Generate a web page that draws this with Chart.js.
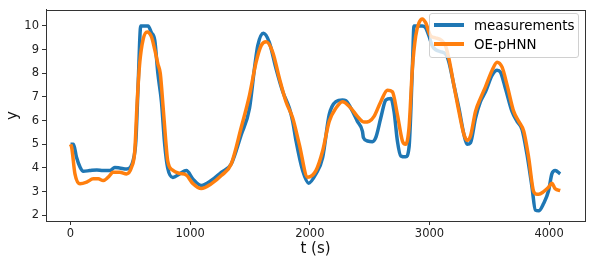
<!DOCTYPE html>
<html>
<head>
<meta charset="utf-8">
<script src="https://cdn.jsdelivr.net/npm/chart.js@4/dist/chart.umd.min.js"></script>
<style>
  body { margin: 0; background: #fff; }
  #wrap { position: relative; width: 592px; height: 265px; }
  #legend {
    position: absolute; left: 429px; top: 13px; width: 148px; height: 43px;
    background: rgba(255, 255, 255, 0.8); border: 1px solid #d0d0d0; border-radius: 3px;
    font-family: "DejaVu Sans", sans-serif; font-size: 13.4px; color: #000;
  }
  .row { position: absolute; left: 0; height: 18px; display: flex; align-items: center; }
  .swatch { width: 30px; height: 3.5px; margin-left: 4px; margin-right: 10px; }
</style>
</head>
<body>
<div id="wrap">
  <canvas id="chart"></canvas>
  <div id="legend">
    <div class="row" style="top: 2px;"><span class="swatch" style="background:#1f77b4"></span>measurements</div>
    <div class="row" style="top: 21px;"><span class="swatch" style="background:#ff7f0e"></span>OE-pHNN</div>
  </div>
</div>
<script>
// valeurs
const measTime = [0, 25, 50, 80, 107, 160, 220, 270, 330, 370, 410, 470, 500, 523, 546, 565, 587, 648, 676, 704,
  730, 760, 787, 812, 855, 912, 968, 1024, 1093, 1176, 1260, 1343, 1426, 1496, 1537, 1565, 1612, 1662, 1718, 1774,
  1829, 1857, 1885, 1940, 1990, 2051, 2107, 2162, 2218, 2273, 2300, 2343, 2398, 2440, 2448, 2482, 2523, 2551, 2593, 2635,
  2677, 2704, 2732, 2760, 2801, 2829, 2857, 2871, 2940, 2968, 2996, 3020, 3050, 3090, 3135, 3163, 3204, 3246, 3288, 3315,
  3343, 3385, 3426, 3468, 3524, 3565, 3593, 3635, 3690, 3732, 3774, 3815, 3857, 3885, 3913, 3954, 3996, 4023, 4051, 4093];
const measValues = [5.0, 5.0, 4.45, 4.03, 3.86, 3.89, 3.92, 3.89, 3.89, 4.02, 4.0, 3.96, 4.03, 4.31, 5.14, 7.5, 10.0, 10.0, 9.72, 9.4,
  8.0, 6.8, 5.0, 4.0, 3.6, 3.75, 3.89, 3.53, 3.26, 3.47, 3.82, 4.17, 5.4, 6.53, 8.19, 9.17, 9.69, 9.3, 8.19, 7.22,
  6.53, 5.97, 5.14, 3.89, 3.36, 3.75, 4.44, 6.25, 6.8, 6.87, 6.85, 6.53, 5.97, 5.55, 5.28, 5.14, 5.11, 5.28, 6.11, 6.87,
  6.94, 6.39, 5.14, 4.51, 4.47, 4.86, 8.19, 10.0, 10.0, 9.93, 9.58, 9.2, 9.0, 8.92, 8.82, 8.47, 7.5, 6.53, 5.42, 5.0,
  5.07, 6.11, 6.8, 7.22, 7.92, 8.13, 8.05, 7.36, 6.39, 5.97, 5.63, 4.58, 3.19, 2.22, 2.19, 2.5, 3.05, 3.75, 3.89, 3.75];

const oeTime = [0, 10, 37, 79, 135, 190, 232, 273, 315, 357, 412, 468, 510, 537, 557, 579, 607, 640, 676, 704,
  730, 750, 775, 795, 812, 855, 912, 968, 1024, 1093, 1176, 1260, 1343, 1426, 1496, 1551, 1593, 1635, 1690, 1746,
  1801, 1857, 1912, 1982, 2051, 2107, 2162, 2218, 2273, 2343, 2398, 2454, 2496, 2537, 2593, 2649, 2690, 2732, 2774, 2801,
  2829, 2857, 2885, 2913, 2940, 2968, 3010, 3050, 3100, 3135, 3163, 3204, 3246, 3288, 3315, 3343, 3385, 3426, 3468, 3524,
  3565, 3607, 3649, 3704, 3746, 3788, 3829, 3871, 3899, 3913, 3954, 3996, 4023, 4051, 4093];
const oeValues = [5.0, 4.86, 3.75, 3.33, 3.4, 3.54, 3.54, 3.47, 3.61, 3.82, 3.82, 3.75, 4.03, 4.72, 6.8, 8.47, 9.44, 9.75, 9.55, 9.0,
  8.4, 8.0, 6.5, 5.2, 4.3, 3.9, 3.77, 3.7, 3.33, 3.13, 3.33, 3.68, 4.17, 5.7, 7.08, 8.47, 9.17, 9.33, 8.89, 7.78,
  6.8, 6.11, 5.0, 3.61, 3.89, 4.72, 5.97, 6.53, 6.8, 6.53, 6.18, 5.94, 5.97, 6.18, 6.8, 7.29, 7.22, 6.25, 5.14, 5.0,
  5.69, 8.19, 9.58, 10.14, 10.3, 10.14, 9.58, 9.5, 9.4, 9.15, 8.61, 7.5, 6.39, 5.42, 5.17, 5.35, 6.39, 6.94, 7.43, 8.13,
  8.47, 8.26, 7.5, 6.39, 5.97, 5.55, 4.44, 3.0, 2.89, 2.89, 3.0, 3.19, 3.36, 3.12, 3.05];

const xTicks = [0, 1000, 2000, 3000, 4000];
const yTicks = [2, 3, 4, 5, 6, 7, 8, 9, 10];

function toPoints(ts, vs) {
  return ts.map((t, i) => ({ x: t, y: vs[i] }));
}

// cadre complet autour de la zone de tracé
const boxPlugin = {
  id: 'box',
  afterDraw(chart) {
    const a = chart.chartArea;
    const c = chart.ctx;
    c.save();
    c.strokeStyle = '#333';
    c.lineWidth = 1;
    c.strokeRect(Math.round(a.left) + 0.5, Math.round(a.top) + 0.5, Math.round(a.right - a.left), Math.round(a.bottom - a.top));
    c.restore();
  }
};

const font = { family: '"DejaVu Sans", sans-serif', size: 11.5 };
const ctx = document.getElementById('chart').getContext('2d');
new Chart(ctx, {
  type: 'line',
  data: {
    datasets: [{
      label: 'measurements',
      data: toPoints(measTime, measValues),
      borderColor: '#1f77b4',
      borderWidth: 3.5,
      pointRadius: 0,
      cubicInterpolationMode: 'monotone',
      order: 2
    }, {
      label: 'OE-pHNN',
      data: toPoints(oeTime, oeValues),
      borderColor: '#ff7f0e',
      borderWidth: 3.5,
      pointRadius: 0,
      cubicInterpolationMode: 'monotone',
      order: 1
    }]
  },
  options: {
    responsive: true,
    maintainAspectRatio: false,
    animation: false,
    layout: { padding: { top: 7, right: 7, left: 0, bottom: 0 } },
    plugins: { legend: { display: false }, tooltip: { enabled: false } },
    scales: {
      x: {
        type: 'linear',
        min: -205,
        max: 4300,
        afterFit(s) { s.height = 44; },
        afterBuildTicks(s) { s.ticks = xTicks.map(v => ({ value: v })); },
        grid: { drawOnChartArea: false, color: '#333', tickLength: 4 },
        border: { color: '#333' },
        ticks: { font, color: '#222', padding: 2, maxRotation: 0, callback: v => String(v) },
        title: { display: true, text: 't (s)', font: { family: '"DejaVu Sans", sans-serif', size: 15 }, color: '#111', padding: { top: 0, bottom: 7 } }
      },
      y: {
        min: 1.76,
        max: 10.68,
        afterFit(s) { s.width = 46; },
        afterBuildTicks(s) { s.ticks = yTicks.map(v => ({ value: v })); },
        grid: { drawOnChartArea: false, color: '#333', tickLength: 4 },
        border: { color: '#333' },
        ticks: { font, color: '#222', padding: 3, callback: v => String(v) },
        title: { display: true, text: 'y', font: { family: '"DejaVu Sans", sans-serif', size: 15 }, color: '#111', padding: { top: 4, bottom: 2 } }
      }
    }
  },
  plugins: [boxPlugin]
});
</script>
</body>
</html>
